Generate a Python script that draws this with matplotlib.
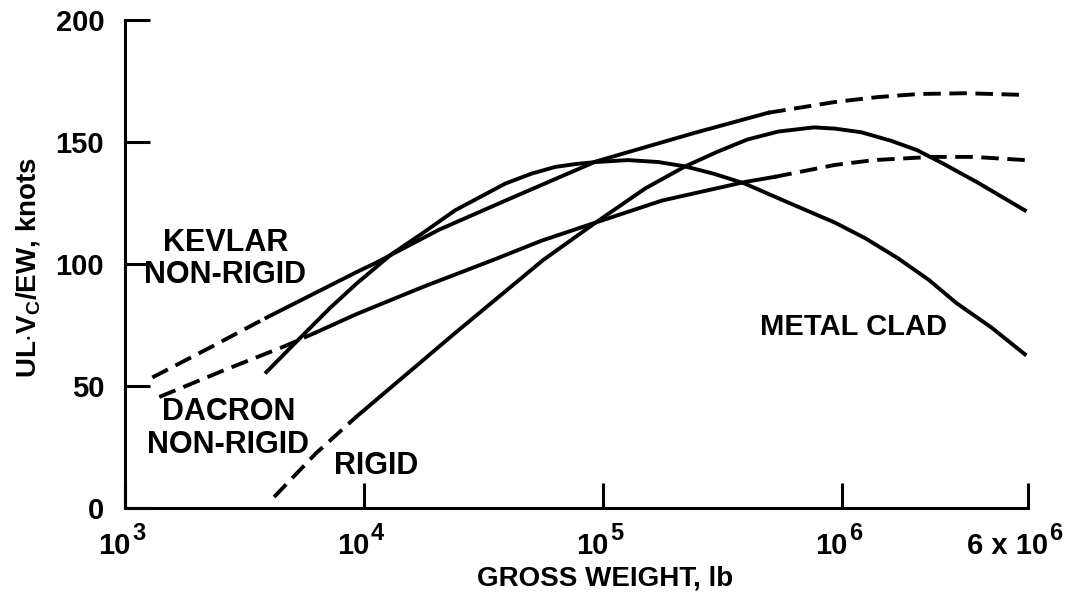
from matplotlib import pyplot as plt


# (gross weight in lb, UL*Vc/EW in knots)
kevlar_dash_x = [1.3e3, 2.25e3, 3.9e3]
kevlar_dash_y = [53.5, 65.6, 78]
kevlar_x = [3.9e3, 9.3e3, 1.12e4, 2.05e4, 3.9e4, 9.3e4, 2.4e5, 4.9e5]
kevlar_y = [78, 96.7, 100.5, 114, 126, 142, 153.7, 162]
kevlar_ext_x = [4.9e5, 9.3e5, 1.4e6, 2.1e6, 3.3e6, 5.8e6]
kevlar_ext_y = [162, 166.4, 168.4, 169.7, 170, 169.3]

dacron_dash_x = [1.39e3, 2.6e3, 4.7e3, 6.3e3]
dacron_dash_y = [45.5, 56.5, 66.5, 72]
dacron_x = [6.3e3, 9.3e3, 1.76e4, 3.45e4, 5.5e4, 9.3e4, 1.76e5, 3.9e5, 5.2e5]
dacron_y = [72, 79.5, 90.6, 101.6, 109.5, 117, 126, 133.6, 135.7]
dacron_ext_x = [5.2e5, 9.3e5, 1.36e6, 2.35e6, 3.55e6, 5.8e6]
dacron_ext_y = [135.7, 140.6, 142.6, 143.9, 143.9, 142.6]

rigid_dash_x = [4.2e3, 6.3e3, 9.3e3]
rigid_dash_y = [4.5, 22.5, 37.5]
rigid_x = [9.3e3, 2.4e4, 5.6e4, 9.3e4, 1.5e5, 2.2e5, 3.0e5, 4.0e5, 5.4e5,
           7.6e5, 9.3e5, 1.2e6, 1.6e6, 2.05e6, 2.6e6, 3.65e6, 5.8e6]
rigid_y = [37.5, 71.7, 101.6, 117, 131, 140, 146, 151, 154.3,
           156, 155.5, 154, 150.5, 146.7, 141.5, 133.6, 122]

metal_x = [3.9e3, 5.4e3, 7.2e3, 9.3e3, 1.3e4, 1.76e4, 2.4e4, 3.9e4, 5.0e4,
           6.3e4, 7.7e4, 9.3e4, 1.27e5, 1.7e5, 2.2e5, 2.9e5, 3.9e5, 6.0e5,
           9.3e5, 1.25e6, 1.7e6, 2.3e6, 3.0e6, 4.2e6, 5.8e6]
metal_y = [55.7, 69.7, 82, 92, 104, 112.7, 122, 133, 137,
           139.8, 141, 141.8, 142.6, 141.8, 140, 137, 133, 125,
           117, 110.5, 102.5, 93.5, 84, 74, 63]

x_ticks = [1e3, 1e4, 1e5, 1e6, 6e6]
x_bases = ['10', '10', '10', '10', '6 x 10']
x_powers = ['3', '4', '5', '6', '6']
y_ticks = [0, 50, 100, 150, 200]


def main():

    plt.rcParams['font.family'] = ['Liberation Sans', 'DejaVu Sans']
    plt.rcParams['font.weight'] = 'bold'
    plt.rcParams['mathtext.fontset'] = 'custom'
    plt.rcParams['mathtext.rm'] = 'Liberation Sans:bold'
    plt.rcParams['mathtext.default'] = 'rm'

    fig = plt.figure(figsize=(10.69, 5.98), dpi=100)
    ax = fig.add_axes([0.117, 0.1505, 0.845, 0.816])

    lw = 2.8
    dash = (0, (4.5, 2.2))
    ax.plot(kevlar_dash_x, kevlar_dash_y, color='black', lw=lw, ls=dash)
    ax.plot(kevlar_x, kevlar_y, color='black', lw=lw)
    ax.plot(kevlar_ext_x, kevlar_ext_y, color='black', lw=lw, ls=dash)

    ax.plot(dacron_dash_x, dacron_dash_y, color='black', lw=lw, ls=dash)
    ax.plot(dacron_x, dacron_y, color='black', lw=lw)
    ax.plot(dacron_ext_x, dacron_ext_y, color='black', lw=lw, ls=dash)

    ax.plot(rigid_dash_x, rigid_dash_y, color='black', lw=lw, ls=dash)
    ax.plot(rigid_x, rigid_y, color='black', lw=lw)

    ax.plot(metal_x, metal_y, color='black', lw=lw)

    ax.set_xscale('log')
    ax.set_xlim(1e3, 6e6)
    ax.set_ylim(0, 200)

    ax.spines['top'].set_visible(False)
    ax.spines['right'].set_visible(False)
    ax.spines['left'].set_linewidth(2.2)
    ax.spines['bottom'].set_linewidth(2.2)

    ax.set_xticks(x_ticks)
    ax.set_xticklabels([])
    ax.xaxis.set_minor_locator(plt.NullLocator())
    ax.set_yticks(y_ticks)

    ax.tick_params(axis='x', direction='in', length=18, width=2.2)
    ax.tick_params(axis='y', direction='in', length=18, width=2.2,
                   pad=15, labelsize=21)

    # x labels: base and a near full size exponent, drawn by hand
    for i in range(len(x_ticks)):
        shift = 14 if i == len(x_ticks) - 1 else 4
        ax.annotate(x_bases[i], xy=(x_ticks[i], 0),
                    xycoords=('data', 'axes fraction'),
                    xytext=(shift, -27), textcoords='offset points',
                    ha='right', va='center', fontsize=21)
        ax.annotate(x_powers[i], xy=(x_ticks[i], 0),
                    xycoords=('data', 'axes fraction'),
                    xytext=(shift + 1, -18), textcoords='offset points',
                    ha='left', va='center', fontsize=17)

    ax.text(2630, 102, "KEVLAR\nNON-RIGID", ha='center', va='center',
            fontsize=22, linespacing=1.1)
    ax.text(2700, 32.6, "DACRON\nNON-RIGID", ha='center', va='center',
            fontsize=22, linespacing=1.1)
    ax.text(1.12e4, 17.2, "RIGID", ha='center', va='center', fontsize=22)
    ax.text(1.11e6, 74.2, "METAL CLAD", ha='center', va='center',
            fontsize=21)

    fig.text(28 / 1069, 1 - 268 / 598, r"UL$\cdot$V$_{C}$/EW, knots",
             rotation=90, ha='center', va='center', fontsize=20)
    fig.text(605 / 1069, 1 - 578 / 598, "GROSS WEIGHT, lb",
             ha='center', va='center', fontsize=20)

    plt.savefig('out.png', dpi=100)


if __name__ == '__main__':
    main()
